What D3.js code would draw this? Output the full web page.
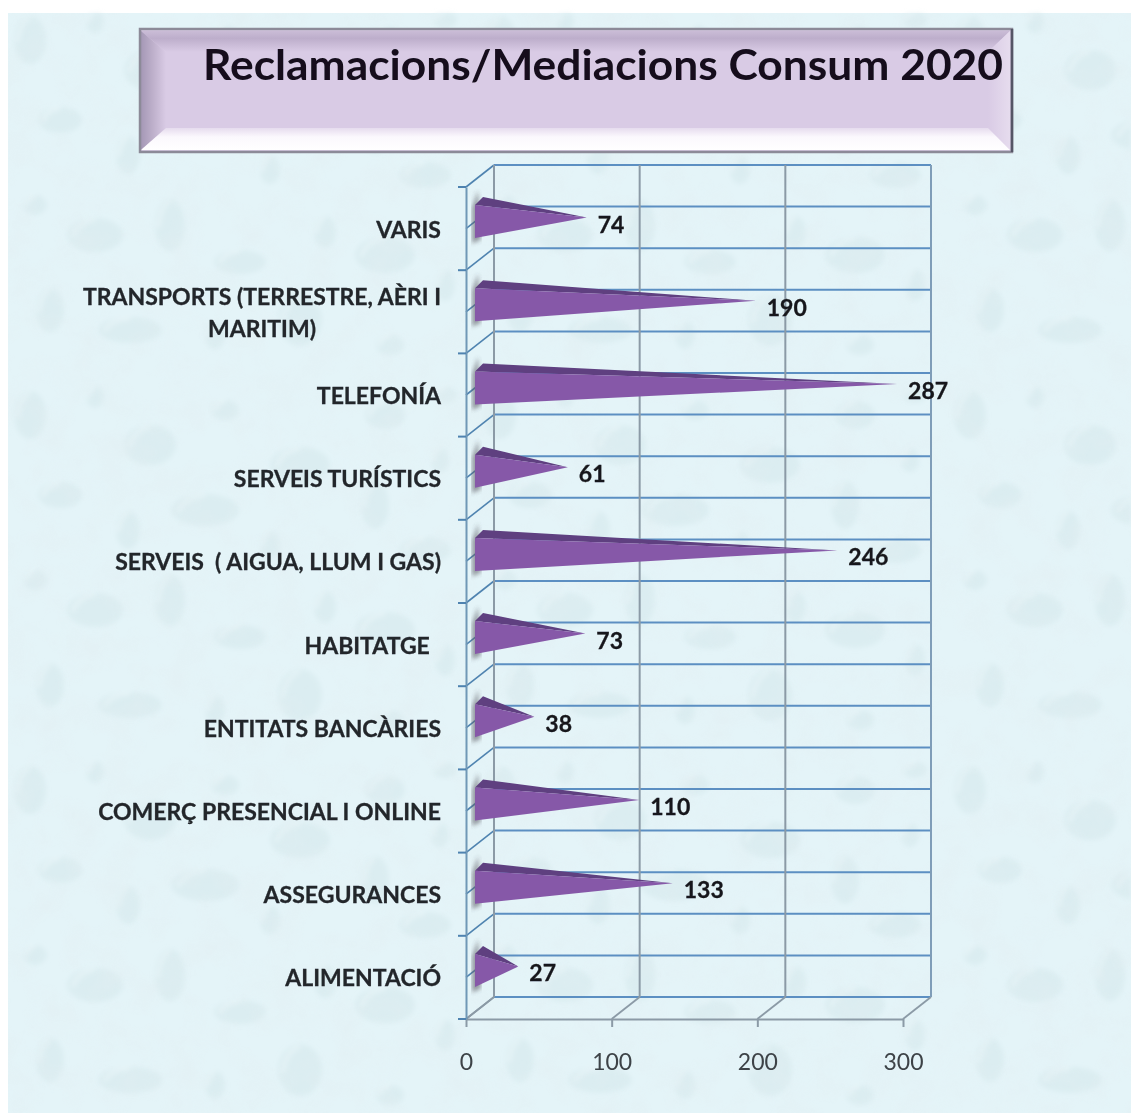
<!DOCTYPE html>
<html>
<head>
<meta charset="utf-8">
<title>Reclamacions/Mediacions Consum 2020</title>
<script src="https://cdn.jsdelivr.net/npm/d3@7"></script>
<style>
    html, body { margin: 0; padding: 0; background: #fff; overflow: hidden; }
    text { font-family: Lato, "Open Sans", sans-serif; white-space: pre; }
</style>
</head>
<body>
<svg id="chart" width="1131" height="1113"></svg>
<script>
var titol = "Reclamacions/Mediacions Consum 2020";
// top to bottom, as on the picture
var categories = [
    "VARIS",
    "TRANSPORTS (TERRESTRE, AÈRI I MARITIM)",
    "TELEFONÍA",
    "SERVEIS TURÍSTICS",
    "SERVEIS  ( AIGUA, LLUM I GAS)",
    "HABITATGE  ",
    "ENTITATS BANCÀRIES",
    "COMERÇ PRESENCIAL I ONLINE",
    "ASSEGURANCES",
    "ALIMENTACIÓ",
];
var valors = [74, 190, 287, 61, 246, 73, 38, 110, 133, 27];
var ticksX = [0, 100, 200, 300];

var svg = d3.select("#chart"),
    defs = svg.append("defs");

// depth of the fake 3d box
var depthX = 28,
    depthY = -22;

var x = d3.scaleLinear().domain([0, 300]).range([466, 903]);
var y = d3.scaleBand().domain(categories).range([187, 1019]);

// soft filter, the source is a blurry screenshot
defs.append("filter")
    .attr("id", "soft")
    .append("feGaussianBlur")
    .attr("stdDeviation", 0.55);
defs.append("filter")
    .attr("id", "shadow")
    .append("feGaussianBlur")
    .attr("stdDeviation", 2);
defs.append("filter")
    .attr("id", "dropBlur")
    .append("feGaussianBlur")
    .attr("stdDeviation", 2.6);

// mottled background
var mottle = defs
    .append("filter")
    .attr("id", "mottle")
    .attr("x", 0)
    .attr("y", 0)
    .attr("width", 1)
    .attr("height", 1);
mottle
    .append("feTurbulence")
    .attr("type", "fractalNoise")
    .attr("baseFrequency", 0.03)
    .attr("numOctaves", 3)
    .attr("seed", 7);
mottle
    .append("feColorMatrix")
    .attr("values", "0 0 0 0 0.76  0 0 0 0 0.85  0 0 0 0 0.88  1.8 0 0 0 -0.72");

// water drops tile
var gotes = [
    [30, 40, 16, 24], [95, 22, 9, 11], [150, 70, 26, 20], [225, 35, 14, 10],
    [300, 90, 30, 18], [60, 120, 22, 13], [128, 155, 12, 19], [205, 135, 34, 16],
    [270, 170, 10, 14], [35, 205, 12, 10], [95, 235, 28, 17], [170, 225, 15, 26],
    [240, 262, 26, 12], [325, 232, 11, 16], [385, 40, 20, 14], [440, 85, 9, 12],
    [375, 130, 14, 24], [425, 175, 26, 13], [385, 255, 30, 18], [445, 285, 10, 16],
    [50, 310, 14, 22], [130, 330, 32, 13], [215, 335, 10, 14], [300, 320, 22, 26],
    [390, 345, 14, 10], [445, 20, 12, 8],
];
var tile = defs
    .append("pattern")
    .attr("id", "drops")
    .attr("patternUnits", "userSpaceOnUse")
    .attr("width", 470)
    .attr("height", 375);
tile.selectAll("ellipse.g")
    .data(gotes)
    .enter()
    .append("ellipse")
    .attr("cx", (d) => d[0])
    .attr("cy", (d) => d[1])
    .attr("rx", (d) => d[2])
    .attr("ry", (d) => d[3])
    .attr("fill", "#c8dfe4")
    .attr("opacity", 0.3);
tile.selectAll("path.h")
    .data(gotes)
    .enter()
    .append("path")
    .attr("d", function (d) {
        return (
            "M" + (d[0] - d[2] * 0.8) + "," + (d[1] + d[3] * 0.1) +
            "Q" + (d[0] - d[2] * 0.6) + "," + (d[1] - d[3] * 0.8) +
            " " + d[0] + "," + (d[1] - d[3] * 0.9)
        );
    })
    .attr("fill", "none")
    .attr("stroke", "#f2fafc")
    .attr("stroke-width", 3)
    .attr("opacity", 0.55);

var bg = svg.append("g");
bg.append("rect")
    .attr("x", 8).attr("y", 13)
    .attr("width", 1123).attr("height", 1100)
    .attr("fill", "#e4f4f8");
bg.append("rect")
    .attr("x", 8).attr("y", 13)
    .attr("width", 1123).attr("height", 1100)
    .attr("fill", "url(#drops)")
    .attr("filter", "url(#dropBlur)");
bg.append("rect")
    .attr("x", 8).attr("y", 13)
    .attr("width", 1123).attr("height", 1100)
    .attr("filter", "url(#mottle)")
    .attr("opacity", 0.5);

// title box with bevel
var gradTop = defs.append("linearGradient").attr("id", "bevTop").attr("x1", 0).attr("y1", 0).attr("x2", 0).attr("y2", 1);
gradTop.append("stop").attr("offset", 0).attr("stop-color", "#cabcd6");
gradTop.append("stop").attr("offset", 0.35).attr("stop-color", "#bdaecb");
gradTop.append("stop").attr("offset", 1).attr("stop-color", "#d9cbe5");
var gradLeft = defs.append("linearGradient").attr("id", "bevLeft");
gradLeft.append("stop").attr("offset", 0).attr("stop-color", "#a598b6");
gradLeft.append("stop").attr("offset", 0.5).attr("stop-color", "#bfb1cc");
gradLeft.append("stop").attr("offset", 1).attr("stop-color", "#d9cbe5");
var gradRight = defs.append("linearGradient").attr("id", "bevRight");
gradRight.append("stop").attr("offset", 0).attr("stop-color", "#d9cbe5");
gradRight.append("stop").attr("offset", 1).attr("stop-color", "#e6dcee");
var gradBottom = defs.append("linearGradient").attr("id", "bevBottom").attr("x1", 0).attr("y1", 0).attr("x2", 0).attr("y2", 1);
gradBottom.append("stop").attr("offset", 0).attr("stop-color", "#e6dcee");
gradBottom.append("stop").attr("offset", 0.4).attr("stop-color", "#fbf8fd");
gradBottom.append("stop").attr("offset", 1).attr("stop-color", "#ffffff");

var box = svg.append("g").attr("filter", "url(#soft)");
box.append("rect")
    .attr("x", 139).attr("y", 28)
    .attr("width", 874).attr("height", 125)
    .attr("fill", "#d9cbe5");
box.append("path").attr("d", "M141,31H1010L988,52H166Z").attr("fill", "url(#bevTop)");
box.append("path").attr("d", "M141,31L166,52V128L141,150Z").attr("fill", "url(#bevLeft)");
box.append("path").attr("d", "M1010,31L988,52V128L1010,150Z").attr("fill", "url(#bevRight)");
box.append("path").attr("d", "M141,150L166,128H988L1010,150Z").attr("fill", "url(#bevBottom)");
box.append("path")
    .attr("d", "M140,29H1012V152H140Z")
    .attr("fill", "none")
    .attr("stroke", "#8c8a98")
    .attr("stroke-width", 2.5);
box.append("path")
    .attr("d", "M1012,29V152")
    .attr("fill", "none")
    .attr("stroke", "#555566")
    .attr("stroke-width", 2.5);

svg.append("text")
    .attr("x", 203)
    .attr("y", 80)
    .attr("font-size", 42)
    .attr("font-weight", 700)
    .attr("fill", "#14101c")
    .attr("textLength", 800)
    .attr("lengthAdjust", "spacingAndGlyphs")
    .attr("filter", "url(#soft)")
    .text(titol);

var chart = svg.append("g").attr("filter", "url(#soft)");

// boundaries between categories, and the halfway lines between them
var blue = "#5c8fc2",
    greyLine = "#8b9aa6",
    frontAxis = "#6f98b6";
var steps = [];
categories.forEach(function (c) {
    steps.push(y(c));
    steps.push(y(c) + y.bandwidth() / 2);
});
steps.push(y.range()[1]);

// back wall horizontals + side wall diagonals
chart.selectAll("line.grid")
    .data(steps)
    .enter()
    .append("line")
    .attr("x1", x(0) + depthX)
    .attr("x2", x(300) + depthX)
    .attr("y1", (d) => d + depthY)
    .attr("y2", (d) => d + depthY)
    .attr("stroke", blue)
    .attr("stroke-width", 2);
chart.selectAll("line.diag")
    .data(steps)
    .enter()
    .append("line")
    .attr("x1", x(0))
    .attr("x2", x(0) + depthX)
    .attr("y1", (d) => d)
    .attr("y2", (d) => d + depthY)
    .attr("stroke", (d, i) => (i === steps.length - 1 ? greyLine : "#4f83b0"))
    .attr("stroke-width", 1.6);

// back wall verticals + floor diagonals
chart.selectAll("line.vert")
    .data(ticksX)
    .enter()
    .append("line")
    .attr("x1", (d) => x(d) + depthX)
    .attr("x2", (d) => x(d) + depthX)
    .attr("y1", y.range()[0] + depthY)
    .attr("y2", y.range()[1] + depthY)
    .attr("stroke", greyLine)
    .attr("stroke-width", 2);
chart.selectAll("line.floor")
    .data(ticksX)
    .enter()
    .append("line")
    .attr("x1", (d) => x(d))
    .attr("x2", (d) => x(d) + depthX)
    .attr("y1", y.range()[1])
    .attr("y2", y.range()[1] + depthY)
    .attr("stroke", greyLine)
    .attr("stroke-width", 1.8);
chart.append("line")
    .attr("x1", x(300) + depthX)
    .attr("x2", x(300) + depthX)
    .attr("y1", y.range()[0] + depthY)
    .attr("y2", y.range()[1] + depthY)
    .attr("stroke", "#7f9db8")
    .attr("stroke-width", 2);

// axes
var xAxis = d3.axisBottom(x).tickValues(ticksX).tickSize(8).tickPadding(27).tickSizeOuter(0);
var gx = chart.append("g")
    .attr("transform", "translate(0," + y.range()[1] + ")")
    .call(xAxis);
gx.select(".domain").attr("stroke", greyLine).attr("stroke-width", 2);
gx.selectAll(".tick line").attr("stroke", greyLine).attr("stroke-width", 2);
gx.selectAll("text")
    .attr("font-size", 23)
    .attr("fill", "#3d4347")
    .style("font-family", "Lato, sans-serif");

var yAxis = d3.axisLeft(y).tickValues([]).tickSizeOuter(0);
var gy = chart.append("g").attr("transform", "translate(" + x(0) + ",0)").call(yAxis);
gy.select(".domain").attr("stroke", frontAxis).attr("stroke-width", 2);
chart.selectAll("line.ytick")
    .data(categories.map((c) => y(c)).concat([y.range()[1]]))
    .enter()
    .append("line")
    .attr("x1", x(0) - 8)
    .attr("x2", x(0))
    .attr("y1", (d) => d)
    .attr("y2", (d) => d)
    .attr("stroke", "#4f83b0")
    .attr("stroke-width", 2);

// the spikes
var bars = chart.selectAll("g.bar")
    .data(categories)
    .enter()
    .append("g")
    .attr("class", "bar");

function midY(c) {
    return y(c) + y.bandwidth() / 2 + depthY / 2;
}
function tipX(i) {
    return x(valors[i]) + depthX / 2 - 1;
}

bars.append("path")
    .attr("d", function (c) {
        var m = midY(c), b = x(0) + 9;
        return "M" + (b + 3) + "," + (m - 27) + "L" + (b - 3) + "," + (m - 10) + "L" + (b - 3) + "," + (m + 26) + "L" + (b + 6) + "," + (m + 22) + "Z";
    })
    .attr("fill", "#5f5f66")
    .attr("opacity", 0.6)
    .attr("filter", "url(#shadow)");
bars.append("path")
    .attr("d", function (c, i) {
        var m = midY(c), b = x(0) + 9;
        return "M" + b + "," + (m - 12.5) + "L" + (b + 8) + "," + (m - 20.5) + "L" + tipX(i) + "," + m + "Z";
    })
    .attr("fill", "#5e3f80");
bars.append("path")
    .attr("d", function (c, i) {
        var m = midY(c), b = x(0) + 9;
        return "M" + b + "," + (m - 12.5) + "L" + tipX(i) + "," + m + "L" + b + "," + (m + 20.5) + "Z";
    })
    .attr("fill", "#8659a8");

// values
svg.selectAll("text.val")
    .data(categories)
    .enter()
    .append("text")
    .attr("class", "val")
    .attr("x", (c, i) => tipX(i) + 11)
    .attr("y", (c) => midY(c) + 15)
    .attr("font-size", 23)
    .attr("font-weight", 700)
    .attr("stroke", "#17171b")
    .attr("stroke-width", 0.3)
    .attr("fill", "#17171b")
    .attr("filter", "url(#soft)")
    .text((c, i) => valors[i]);

// category labels, the long one goes on two lines
var labelRight = 441;
var labels = svg.selectAll("text.cat")
    .data(categories)
    .enter()
    .append("text")
    .attr("class", "cat")
    .attr("font-size", 23)
    .attr("font-weight", 700)
    .attr("fill", "#23262b")
    .attr("stroke", "#23262b")
    .attr("stroke-width", 0.3)
    .attr("filter", "url(#soft)")
    .attr("text-anchor", "end")
    .attr("y", (c) => y(c) + y.bandwidth() / 2 + 9);

labels.each(function (c) {
    var t = d3.select(this);
    var cut = c.indexOf(" MARITIM");
    if (cut < 0) {
        t.attr("x", labelRight).text(c);
        return;
    }
    var first = t.append("tspan").attr("x", labelRight).attr("dy", -15.5).text(c.slice(0, cut));
    var w = first.node().getComputedTextLength();
    t.append("tspan")
        .attr("x", labelRight - w / 2)
        .attr("dy", 32)
        .attr("text-anchor", "middle")
        .text(c.slice(cut + 1));
});
</script>
</body>
</html>
